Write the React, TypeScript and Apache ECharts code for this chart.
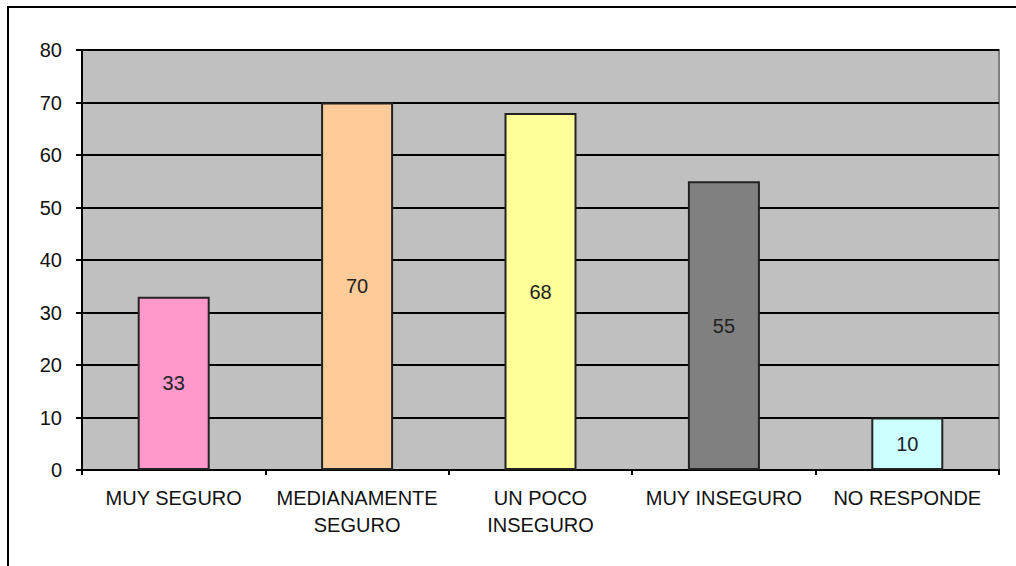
import React, { useEffect, useRef } from "react";
import * as echarts from "echarts";

const categories = ["MUY SEGURO", "MEDIANAMENTE\nSEGURO", "UN POCO\nINSEGURO", "MUY INSEGURO", "NO RESPONDE"];
const values = [33, 70, 68, 55, 10];
const barColors = ["#FF99CC", "#FFCC99", "#FFFF99", "#808080", "#CCFFFF"];
const yTicks = { min: 0, max: 80, interval: 10 };

export default function App() {
  const ref = useRef<HTMLDivElement>(null);
  useEffect(() => {
    if (!ref.current) return;
    const chart = echarts.init(ref.current, null, { renderer: "svg" });
    const font = "Arial, 'Liberation Sans', sans-serif";
    chart.setOption({
      animation: false,
      backgroundColor: "#ffffff",
      graphic: [
        { type: "line", shape: { x1: 8, y1: 7, x2: 1016, y2: 7 }, style: { stroke: "#000", lineWidth: 2 } },
        { type: "line", shape: { x1: 8, y1: 6, x2: 8, y2: 566 }, style: { stroke: "#000", lineWidth: 2 } },
      ],
      grid: {
        left: 82,
        right: 17,
        top: 50,
        bottom: 96,
        show: true,
        backgroundColor: "#C0C0C0",
        borderColor: "#808080",
        borderWidth: 2,
      },
      xAxis: {
        type: "category",
        data: categories,
        axisLine: { show: true, lineStyle: { color: "#000", width: 2 } },
        axisTick: { show: true, length: 5, alignWithLabel: false, lineStyle: { color: "#000", width: 2 } },
        axisLabel: {
          color: "#111",
          fontFamily: font,
          fontSize: 20,
          lineHeight: 27,
          margin: 14,
          interval: 0,
        },
      },
      yAxis: {
        type: "value",
        min: yTicks.min,
        max: yTicks.max,
        interval: yTicks.interval,
        axisLine: { show: true, lineStyle: { color: "#000", width: 2 } },
        axisTick: { show: true, length: 6, inside: false, lineStyle: { color: "#000", width: 2 } },
        axisLabel: { color: "#111", fontFamily: font, fontSize: 20, margin: 20 },
        splitLine: { show: true, lineStyle: { color: "#000", width: 2 } },
      },
      series: [
        {
          type: "bar",
          data: values.map((v, i) => ({
            value: v,
            itemStyle: { color: barColors[i] },
          })),
          barWidth: 72,
          itemStyle: { borderColor: "#222", borderWidth: 2 },
          label: {
            show: true,
            position: "inside",
            color: "#222",
            fontFamily: font,
            fontSize: 20,
          },
        },
      ],
    });
    return () => chart.dispose();
  }, []);
  return (
    <div style={{ position: "fixed", left: 0, top: 0, width: 1016, height: 566, background: "#fff" }}>
      <div ref={ref} style={{ width: 1016, height: 566 }} />
    </div>
  );
}
